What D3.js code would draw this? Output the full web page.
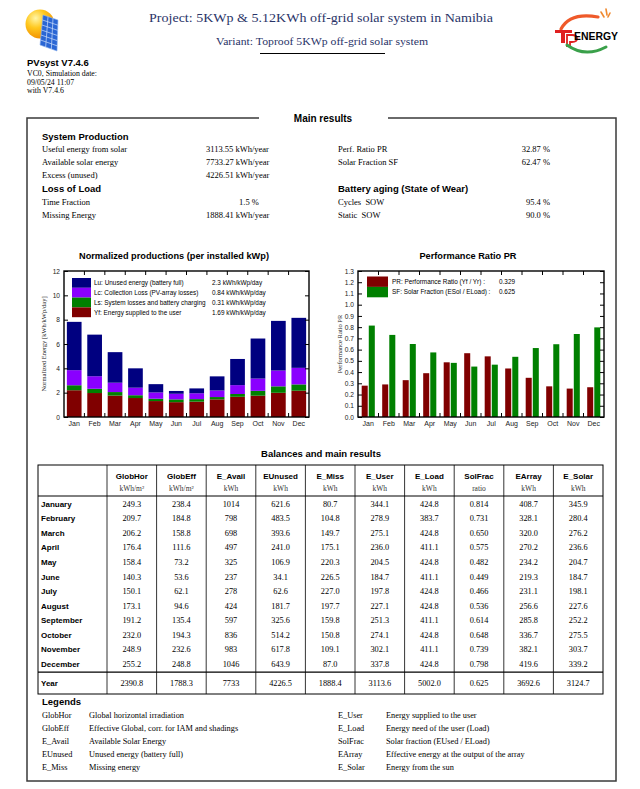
<!DOCTYPE html>
<html><head><meta charset="utf-8">
<script src="https://cdn.jsdelivr.net/npm/d3@7"></script>
<style>body{margin:0;background:#fff}svg{display:block}</style>
</head><body>
<svg id="page" width="640" height="789"></svg>
<script>
// ---------------- DATA ----------------
const months = ["Jan","Feb","Mar","Apr","May","Jun","Jul","Aug","Sep","Oct","Nov","Dec"];
const monthNames = ["January","February","March","April","May","June","July","August","September","October","November","December"];
// Normalized productions (kWh/kWp/day)
const yfValues = [2.20,1.97,1.76,1.56,1.31,1.22,1.26,1.45,1.66,1.75,1.99,2.16];
const lsValues = [0.41,0.35,0.29,0.23,0.19,0.23,0.21,0.19,0.23,0.40,0.53,0.52];
const lcValues = [1.24,1.03,0.77,0.62,0.52,0.46,0.48,0.54,0.73,1.01,1.30,1.36];
const luValues = [3.97,3.42,2.51,1.59,0.68,0.23,0.40,1.16,2.15,3.29,4.08,4.11];
const normTicks = [0,2,4,6,8,10,12];
const normLegend = ["Lu: Unused energy (battery full)","Lc: Collection Loss (PV-array losses)","Ls: System losses and battery charging","Yf: Energy supplied to the user"];
const normLegendValues = ["2.3 kWh/kWp/day","0.84 kWh/kWp/day","0.31 kWh/kWp/day","1.69 kWh/kWp/day"];
// Performance ratio
const prValues = [0.279,0.290,0.328,0.390,0.487,0.568,0.540,0.432,0.349,0.273,0.253,0.265];
const solFrac = [0.814,0.731,0.650,0.575,0.482,0.449,0.466,0.536,0.614,0.648,0.739,0.798];
const prTicks = [0,0.1,0.2,0.3,0.4,0.5,0.6,0.7,0.8,0.9,1.0,1.1,1.2,1.3];
const prLegend = ["PR: Performance Ratio (Yf / Yr) :","SF: Solar Fraction (ESol / ELoad) :"];
const prLegendValues = ["0.329","0.625"];
// Balances table
const globHor = [249.3,209.7,206.2,176.4,158.4,140.3,150.1,173.1,191.2,232.0,248.9,255.2];
const globEff = [238.4,184.8,158.8,111.6,73.2,53.6,62.1,94.6,135.4,194.3,232.6,248.8];
const eAvail  = [1014,798,698,497,325,237,278,424,597,836,983,1046];
const eUnused = [621.6,483.5,393.6,241.0,106.9,34.1,62.6,181.7,325.6,514.2,617.8,643.9];
const eMiss   = [80.7,104.8,149.7,175.1,220.3,226.5,227.0,197.7,159.8,150.8,109.1,87.0];
const eUser   = [344.1,278.9,275.1,236.0,204.5,184.7,197.8,227.1,251.3,274.1,302.1,337.8];
const eLoad   = [424.8,383.7,424.8,411.1,424.8,411.1,424.8,424.8,411.1,424.8,411.1,424.8];
const eArray  = [408.7,328.1,320.0,270.2,234.2,219.3,231.1,256.6,285.8,336.7,382.1,419.6];
const eSolar  = [345.9,280.4,276.2,236.6,204.7,184.7,198.1,227.6,252.2,275.5,303.7,339.2];
const yearTotals = [2390.8,1788.3,7733,4226.5,1888.4,3113.6,5002.0,0.625,3692.6,3124.7];
const colHeads = ["GlobHor","GlobEff","E_Avail","EUnused","E_Miss","E_User","E_Load","SolFrac","EArray","E_Solar"];
const colUnits = ["kWh/m²","kWh/m²","kWh","kWh","kWh","kWh","kWh","ratio","kWh","kWh"];
const colDecimals = [1,1,0,1,1,1,1,3,1,1];
// Main results
const prodLabels = ["Useful energy from solar","Available solar energy","Excess (unused)"];
const prodValues = ["3113.55 kWh/year","7733.27 kWh/year","4226.51 kWh/year"];
const prodRightLabels = ["Perf. Ratio PR","Solar Fraction SF"];
const prodRightValues = ["32.87 %","62.47 %"];
const lolLabels = ["Time Fraction","Missing Energy"];
const lolValues = ["1.5 %","1888.41 kWh/year"];
const wearLabels = ["Cycles  SOW","Static  SOW"];
const wearValues = ["95.4 %","90.0 %"];
// Legends
const legLeftKeys = ["GlobHor","GlobEff","E_Avail","EUnused","E_Miss"];
const legLeftDesc = ["Global horizontal irradiation","Effective Global, corr. for IAM and shadings","Available Solar Energy","Unused energy (battery full)","Missing energy"];
const legRightKeys = ["E_User","E_Load","SolFrac","EArray","E_Solar"];
const legRightDesc = ["Energy supplied to the user","Energy need of the user (Load)","Solar fraction (EUsed / ELoad)","Effective energy at the output of the array","Energy from the sun"];

// ---------------- STYLE ----------------
const SERIF = "'Liberation Serif','Times New Roman',serif";
const SANS = "'Liberation Sans',Arial,sans-serif";
const C_LU = "#000080", C_LC = "#8a00ff", C_LS = "#008000", C_YF = "#800000";

const svg = d3.select("#page");
function txt(g, x, y, s, o) {
  o = o || {};
  return g.append("text").attr("x", x).attr("y", y).text(s)
    .attr("font-family", o.ff || SERIF).attr("font-size", o.fs || 9)
    .attr("font-weight", o.fw || "normal").attr("fill", o.fill || "#000")
    .attr("text-anchor", o.anchor || "start").style("white-space","pre");
}

// ---------------- HEADER ----------------
const defs = svg.append("defs");
const rg = defs.append("radialGradient").attr("id","sun").attr("cx","35%").attr("cy","30%").attr("r","75%");
rg.append("stop").attr("offset","0%").attr("stop-color","#fff6a8");
rg.append("stop").attr("offset","45%").attr("stop-color","#ffc81e");
rg.append("stop").attr("offset","100%").attr("stop-color","#f08c00");
const logo = svg.append("g");
logo.append("circle").attr("cx",40).attr("cy",24).attr("r",14.5).attr("fill","url(#sun)");
const P = [[43,15],[58,20],[57,51],[40,45]];
function bil(u,v){ const a=P[0],b=P[1],c=P[2],d=P[3];
  return [(1-u)*(1-v)*a[0]+u*(1-v)*b[0]+u*v*c[0]+(1-u)*v*d[0],(1-u)*(1-v)*a[1]+u*(1-v)*b[1]+u*v*c[1]+(1-u)*v*d[1]]; }
logo.append("path").attr("d","M"+P.map(p=>p.join(",")).join("L")+"Z").attr("fill","#2a66d4").attr("stroke","#8fb4ee").attr("stroke-width",0.6);
for (let i=1;i<3;i++){ const a=bil(i/3,0), b=bil(i/3,1); logo.append("line").attr("x1",a[0]).attr("y1",a[1]).attr("x2",b[0]).attr("y2",b[1]).attr("stroke","#cfe0fb").attr("stroke-width",0.7); }
for (let j=1;j<6;j++){ const a=bil(0,j/6), b=bil(1,j/6); logo.append("line").attr("x1",a[0]).attr("y1",a[1]).attr("x2",b[0]).attr("y2",b[1]).attr("stroke","#cfe0fb").attr("stroke-width",0.7); }

txt(svg, 27, 66, "PVsyst V7.4.6", {ff:SANS, fs:9.5, fw:"bold"});
txt(svg, 27, 76, "VC0, Simulation date:", {fs:7.8});
txt(svg, 27, 84.5, "09/05/24 11:07", {fs:7.8});
txt(svg, 27, 93, "with V7.4.6", {fs:7.8});

txt(svg, 321, 22, "Project: 5KWp & 5.12KWh off-grid solar system in Namibia", {fs:12.5, fill:"#2a3468", anchor:"middle"}).attr("textLength",344).attr("lengthAdjust","spacingAndGlyphs");
txt(svg, 322, 44.5, "Variant: Toproof 5KWp off-grid solar system", {fs:10, fill:"#2a3468", anchor:"middle"}).attr("textLength",212).attr("lengthAdjust","spacingAndGlyphs");
svg.append("line").attr("x1",260).attr("x2",385).attr("y1",53.5).attr("y2",53.5).attr("stroke","#000").attr("stroke-width",1.2);

// right logo
const rl = svg.append("g");
rl.append("path").attr("d","M561,29 Q570,12 598,17").attr("fill","none").attr("stroke","#ef5a2a").attr("stroke-width",3.2).attr("stroke-linecap","round");
rl.append("path").attr("d","M601,12 L604,17 M606,9 L607,15 M610,13 L608,17").attr("stroke","#f08a30").attr("stroke-width",1.6).attr("stroke-linecap","round");
rl.append("path").attr("d","M555,30 L572,30 L572,33 L565,33 L565,43 L561,43 L561,33 L555,33 Z").attr("fill","#e02020");
rl.append("path").attr("d","M567,35 L572,35 Q577,35 577,38.5 Q577,42 572,42 L570,42 L570,46 L567,46 Z").attr("fill","none").attr("stroke","#e02020").attr("stroke-width",1.8);
txt(rl, 574, 40, "ENERGY", {ff:SANS, fs:10.5, fw:"bold"}).attr("textLength",44).attr("lengthAdjust","spacingAndGlyphs");
rl.append("path").attr("d","M567,45 Q585,58 606,47").attr("fill","none").attr("stroke","#3aa04a").attr("stroke-width",3).attr("stroke-linecap","round");

// ---------------- MAIN FRAME ----------------
svg.append("rect").attr("x",27).attr("y",118).attr("width",589).attr("height",663).attr("fill","none").attr("stroke","#3a3a3a").attr("stroke-width",1.5);
svg.append("rect").attr("x",259).attr("y",113).attr("width",129).attr("height",10).attr("fill","#fff");
txt(svg, 323, 121.5, "Main results", {ff:SANS, fs:10, fw:"bold", anchor:"middle"});

txt(svg, 42, 139.5, "System Production", {ff:SANS, fs:9.5, fw:"bold"});
const rowY = [152, 165, 178];
prodLabels.forEach((s,i)=>{ txt(svg,42,rowY[i],s,{fs:8.5}); txt(svg,206,rowY[i],prodValues[i],{fs:8.5}); });
prodRightLabels.forEach((s,i)=>{ txt(svg,338,rowY[i],s,{fs:8.5}); txt(svg,550,rowY[i],prodRightValues[i],{fs:8.5,anchor:"end"}); });
txt(svg, 42, 191.5, "Loss of Load", {ff:SANS, fs:9.5, fw:"bold"});
txt(svg, 338, 191.5, "Battery aging (State of Wear)", {ff:SANS, fs:9.5, fw:"bold"});
const rowY2 = [205, 218];
lolLabels.forEach((s,i)=>{ txt(svg,42,rowY2[i],s,{fs:8.5}); });
txt(svg, 239, rowY2[0], lolValues[0], {fs:8.5});
txt(svg, 206, rowY2[1], lolValues[1], {fs:8.5});
wearLabels.forEach((s,i)=>{ txt(svg,338,rowY2[i],s,{fs:8.5}); txt(svg,550,rowY2[i],wearValues[i],{fs:8.5,anchor:"end"}); });

// ---------------- CHART 1: Normalized productions ----------------
const L = {x0:64, x1:309, y0:271, y1:417};
const c1 = svg.append("g");
txt(c1, 174, 259, "Normalized productions (per installed kWp)", {ff:SANS, fs:9.2, fw:"bold", anchor:"middle"});
const xL = d3.scaleBand().domain(months).range([L.x0, L.x1]).paddingInner(0.28).paddingOuter(0.14);
const yL = d3.scaleLinear().domain([0,12]).range([L.y1, L.y0]);
const stackRows = months.map((m,i)=>({month:m, yf:yfValues[i], ls:lsValues[i], lc:lcValues[i], lu:luValues[i]}));
const keys = ["yf","ls","lc","lu"];
const colors = {yf:C_YF, ls:C_LS, lc:C_LC, lu:C_LU};
const stacked = d3.stack().keys(keys)(stackRows);
c1.selectAll("g.ser").data(stacked).join("g").attr("fill", d=>colors[d.key])
  .selectAll("rect").data(d=>d).join("rect")
  .attr("x", d=>xL(d.data.month)).attr("width", xL.bandwidth())
  .attr("y", d=>yL(d[1])).attr("height", d=>yL(d[0])-yL(d[1]));
const legColors1 = [C_LU, C_LC, C_LS, C_YF];
normLegend.forEach((s,i)=>{
  const y = 278 + i*9.8;
  c1.append("rect").attr("x",72).attr("y",y).attr("width",19).attr("height",9.8).attr("fill",legColors1[i]);
  txt(c1, 94, y+7.2, s, {ff:SANS, fs:6.4});
  txt(c1, 212, y+7.2, normLegendValues[i], {ff:SANS, fs:6.4});
});
function frameAndTicks(g, F, xs, ys, tickVals, fmt) {
  g.append("rect").attr("x",F.x0).attr("y",F.y0).attr("width",F.x1-F.x0).attr("height",F.y1-F.y0)
    .attr("fill","none").attr("stroke","#000").attr("stroke-width",1.4);
  const ax = g.append("g").attr("transform",`translate(${F.x0},0)`)
    .call(d3.axisLeft(ys).tickValues(tickVals).tickSize(-4).tickPadding(4).tickFormat(fmt));
  ax.select(".domain").remove();
  ax.selectAll("text").attr("font-family",SANS).attr("font-size",6.6).attr("fill","#222");
  ax.selectAll("line").attr("stroke","#000");
  const axr = g.append("g").attr("transform",`translate(${F.x1},0)`)
    .call(d3.axisRight(ys).tickValues(tickVals).tickSize(-4).tickFormat(""));
  axr.select(".domain").remove();
  const axb = g.append("g").attr("transform",`translate(0,${F.y1})`)
    .call(d3.axisBottom(xs).tickSize(0).tickPadding(4));
  axb.select(".domain").remove();
  axb.selectAll("text").attr("font-family",SANS).attr("font-size",7).attr("fill","#222");
  const dom = xs.domain();
  const bnd = d3.range(1, dom.length).map(i => (xs(dom[i-1]) + xs.bandwidth() + xs(dom[i]))/2);
  g.selectAll(null).data(bnd).join("line").attr("x1",d=>d).attr("x2",d=>d).attr("y1",F.y1).attr("y2",F.y1-4).attr("stroke","#000");
  g.selectAll(null).data(bnd).join("line").attr("x1",d=>d).attr("x2",d=>d).attr("y1",F.y0).attr("y2",F.y0+4).attr("stroke","#000");
}
frameAndTicks(c1, L, xL, yL, normTicks, d3.format("d"));
txt(c1, 0, 0, "Normalized Energy [kWh/kWp/day]", {fs:6.5, anchor:"middle", fill:"#222"})
  .attr("transform", `translate(46,${(L.y0+L.y1)/2}) rotate(-90)`);

// ---------------- CHART 2: Performance ratio ----------------
const R = {x0:358, x1:604, y0:271, y1:417};
const c2 = svg.append("g");
txt(c2, 468, 259, "Performance Ratio PR", {ff:SANS, fs:9.2, fw:"bold", anchor:"middle"});
const xR = d3.scaleBand().domain(months).range([R.x0, R.x1]).paddingInner(0.36).paddingOuter(0.18);
const xRi = d3.scaleBand().domain(["pr","sf"]).range([0, xR.bandwidth()]).paddingInner(0.15);
const yR = d3.scaleLinear().domain([0,1.3]).range([R.y1, R.y0]);
const prRows = months.map((m,i)=>({month:m, pr:prValues[i], sf:solFrac[i]}));
const g2 = c2.selectAll("g.grp").data(prRows).join("g").attr("transform", d=>`translate(${xR(d.month)},0)`);
g2.selectAll("rect").data(d=>[{k:"pr",v:d.pr},{k:"sf",v:d.sf}]).join("rect")
  .attr("x", d=>xRi(d.k)).attr("width", xRi.bandwidth())
  .attr("y", d=>yR(d.v)).attr("height", d=>yR(0)-yR(d.v))
  .attr("fill", d=> d.k==="pr" ? C_YF : C_LS);
const legColors2 = [C_YF, C_LS];
prLegend.forEach((s,i)=>{
  const y = 276.5 + i*10.4;
  c2.append("rect").attr("x",367).attr("y",y).attr("width",21).attr("height",10.4).attr("fill",legColors2[i]);
  txt(c2, 392, y+7.5, s, {ff:SANS, fs:6.4});
  txt(c2, 499, y+7.5, prLegendValues[i], {ff:SANS, fs:6.4});
});
frameAndTicks(c2, R, xR, yR, prTicks, d3.format(".1f"));
txt(c2, 0, 0, "Performance Ratio PR", {fs:6.5, anchor:"middle", fill:"#222"})
  .attr("transform", `translate(342,${(R.y0+R.y1)/2}) rotate(-90)`);

// ---------------- TABLE ----------------
const T = {x0:38, x1:603, y0:465, yHead:496, rowH:14.55, yBot:694};
const tg = svg.append("g");
txt(tg, 321, 457, "Balances and main results", {ff:SANS, fs:9.5, fw:"bold", anchor:"middle"});
const colX = d3.scaleBand().domain(colHeads).range([107, T.x1]);
const rowYs = d3.scaleBand().domain(monthNames).range([T.yHead+0.5, T.yHead+0.5+12*T.rowH]);
const yDataEnd = T.yHead + 0.5 + 12*T.rowH;
tg.append("rect").attr("x",T.x0).attr("y",T.y0).attr("width",T.x1-T.x0).attr("height",T.yBot-T.y0).attr("fill","none").attr("stroke","#000").attr("stroke-width",1);
colHeads.forEach(h=>{ tg.append("line").attr("x1",colX(h)).attr("x2",colX(h)).attr("y1",T.y0).attr("y2",T.yBot).attr("stroke","#000").attr("stroke-width",0.8); });
tg.append("line").attr("x1",T.x0).attr("x2",T.x1).attr("y1",T.yHead).attr("y2",T.yHead).attr("stroke","#000").attr("stroke-width",1);
tg.append("line").attr("x1",T.x0).attr("x2",T.x1).attr("y1",yDataEnd+1).attr("y2",yDataEnd+1).attr("stroke","#000").attr("stroke-width",1.4);
colHeads.forEach((h,i)=>{
  const cx = colX(h) + colX.bandwidth()/2;
  txt(tg, cx, 479, h, {ff:SANS, fs:8, fw:"bold", anchor:"middle"});
  txt(tg, cx, 491, colUnits[i], {fs:7.5, anchor:"middle", fill:"#333"});
});
const tableCols = [globHor, globEff, eAvail, eUnused, eMiss, eUser, eLoad, solFrac, eArray, eSolar];
monthNames.forEach((m,r)=>{
  const y = rowYs(m) + rowYs.bandwidth()/2 + 3;
  txt(tg, 41, y, m, {ff:SANS, fs:8, fw:"bold"});
  tableCols.forEach((col,c)=>{
    const cx = colX(colHeads[c]) + colX.bandwidth()/2;
    txt(tg, cx, y, col[r].toFixed(colDecimals[c]), {fs:8.3, anchor:"middle"});
  });
});
const yYear = (yDataEnd + T.yBot)/2 + 3.5;
txt(tg, 41, yYear, "Year", {ff:SANS, fs:8, fw:"bold"});
yearTotals.forEach((v,c)=>{
  const cx = colX(colHeads[c]) + colX.bandwidth()/2;
  txt(tg, cx, yYear, v.toFixed(colDecimals[c]), {fs:8.3, anchor:"middle"});
});

// ---------------- LEGENDS ----------------
txt(svg, 42, 705, "Legends", {ff:SANS, fs:9.5, fw:"bold"});
legLeftKeys.forEach((k,i)=>{
  const y = 718 + i*12.9;
  txt(svg, 42, y, k, {fs:8.3});
  txt(svg, 89, y, legLeftDesc[i], {fs:8.3});
  txt(svg, 338, y, legRightKeys[i], {fs:8.3});
  txt(svg, 386, y, legRightDesc[i], {fs:8.3});
});
</script>
</body></html>
